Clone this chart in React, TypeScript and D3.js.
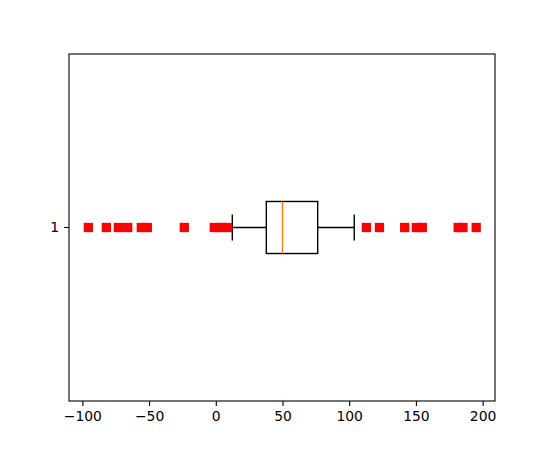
import React from "react";
import * as d3 from "d3";

const categories = ["1"];
const q1Values = [37.5];
const medianValues = [49.6];
const q3Values = [76];
const whiskerLow = [12];
const whiskerHigh = [103.4];
const outliers = [-95.9, -82.4, -73.4, -66.4, -56.2, -51.7, -24.0, -1.5, 3.5, 8.5, 112.5, 122.3, 141.2, 150.0, 154.4, 181.3, 184.9, 194.8];
const xTicks = [-100, -50, 0, 50, 100, 150, 200];

const W = 550, H = 450;
const L = 69, R = 495, T = 54, B = 401;

export default function App() {
  const x = d3.scaleLinear().domain([-110.4, 208.9]).range([L, R]);
  const y = d3.scaleLinear().domain([0.5, 1.5]).range([B, T]);
  const boxHalf = 0.075;
  const capHalf = 0.0375;
  const ms = 9.3;
  const font = "DejaVu Sans, sans-serif";
  return (
    <div style={{ position: "absolute", left: 0, top: 0 }}>
      <svg width={W} height={H} style={{ display: "block", background: "#fff" }}>
        <rect x={0} y={0} width={W} height={H} fill="#fff" />
        {categories.map((c, i) => {
          const pos = i + 1;
          const yc = y(pos);
          return (
            <g key={c}>
              <line x1={x(whiskerLow[i])} x2={x(q1Values[i])} y1={yc} y2={yc} stroke="#000" strokeWidth={1.4} />
              <line x1={x(q3Values[i])} x2={x(whiskerHigh[i])} y1={yc} y2={yc} stroke="#000" strokeWidth={1.4} />
              <line x1={x(whiskerLow[i])} x2={x(whiskerLow[i])} y1={y(pos - capHalf)} y2={y(pos + capHalf)} stroke="#000" strokeWidth={1.4} />
              <line x1={x(whiskerHigh[i])} x2={x(whiskerHigh[i])} y1={y(pos - capHalf)} y2={y(pos + capHalf)} stroke="#000" strokeWidth={1.4} />
              <rect x={x(q1Values[i])} y={y(pos + boxHalf)} width={x(q3Values[i]) - x(q1Values[i])} height={y(pos - boxHalf) - y(pos + boxHalf)} fill="none" stroke="#000" strokeWidth={1.4} />
              <line x1={x(medianValues[i])} x2={x(medianValues[i])} y1={y(pos + boxHalf)} y2={y(pos - boxHalf)} stroke="#ff7f0e" strokeWidth={1.4} />
              {outliers.map((v, j) => (
                <rect key={j} x={x(v) - ms / 2} y={yc - ms / 2} width={ms} height={ms} fill="#ff0000" />
              ))}
              <line x1={L} x2={L - 4.9} y1={yc} y2={yc} stroke="#000" strokeWidth={1.1} />
              <text x={L - 9.8} y={yc} dy="0.35em" textAnchor="end" fontFamily={font} fontSize={13.9} fill="#000">{c}</text>
            </g>
          );
        })}
        {xTicks.map((t) => (
          <g key={t}>
            <line x1={x(t)} x2={x(t)} y1={B} y2={B + 4.9} stroke="#000" strokeWidth={1.1} />
            <text x={x(t)} y={B + 9.8} dy="0.76em" textAnchor="middle" fontFamily={font} fontSize={13.9} fill="#000">{t < 0 ? "\u2212" + Math.abs(t) : String(t)}</text>
          </g>
        ))}
        <rect x={L} y={T} width={R - L} height={B - T} fill="none" stroke="#000" strokeWidth={1.1} />
      </svg>
    </div>
  );
}
